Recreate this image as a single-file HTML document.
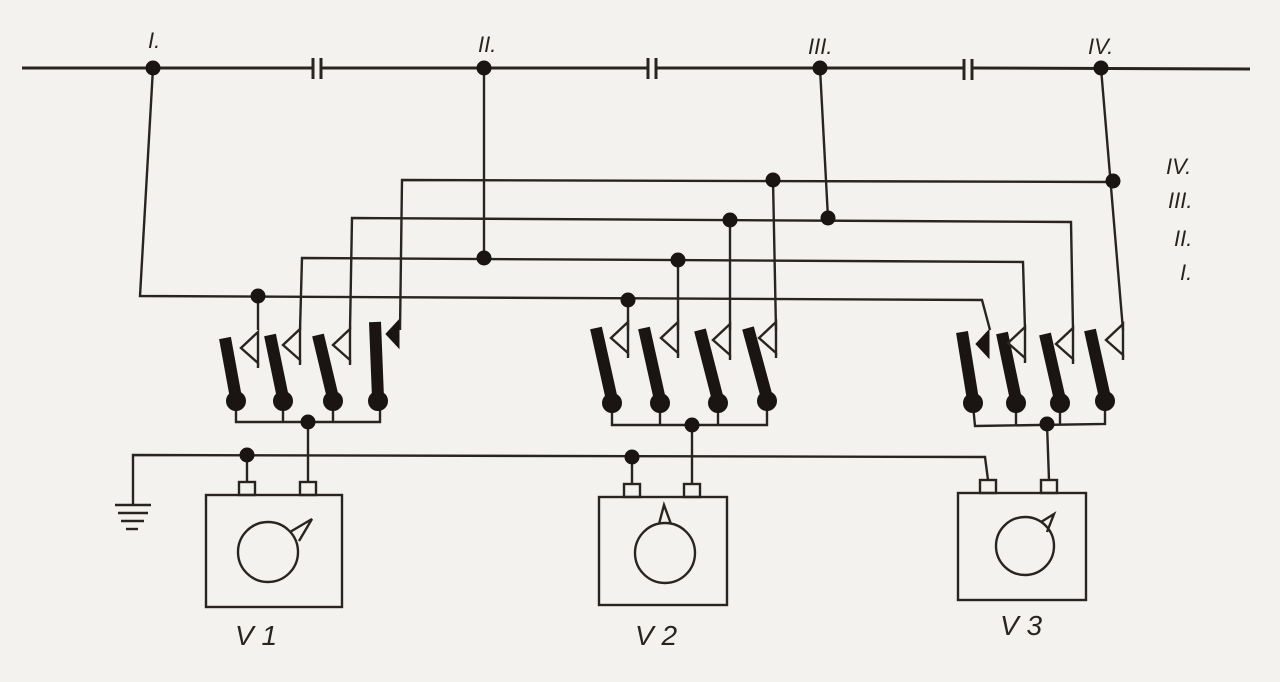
<!DOCTYPE html>
<html><head><meta charset="utf-8"><style>
html,body{margin:0;padding:0;background:#f3f2ef;}
svg{display:block}
text{font-family:"Liberation Sans",sans-serif;font-style:italic;fill:#2a2420}
</style></head><body>
<svg id="s" width="1280" height="682" viewBox="0 0 1280 682" xmlns="http://www.w3.org/2000/svg">
<rect width="1280" height="682" fill="#f3f2ef"/>
<g stroke="#2a2420" fill="none" stroke-width="2.4">
<line x1="22" y1="68" x2="312" y2="68" stroke-width="3"/>
<line x1="322" y1="68" x2="647" y2="68" stroke-width="3"/>
<line x1="657" y1="68" x2="963" y2="68" stroke-width="3"/>
<line x1="973" y1="68" x2="1250" y2="69" stroke-width="3"/>
<line x1="313" y1="58" x2="313" y2="79" stroke-width="3"/><line x1="321" y1="58" x2="321" y2="79" stroke-width="3"/>
<line x1="648" y1="58" x2="648" y2="79" stroke-width="3"/><line x1="656" y1="58" x2="656" y2="79" stroke-width="3"/>
<line x1="964" y1="59" x2="964" y2="80" stroke-width="3"/><line x1="972" y1="59" x2="972" y2="80" stroke-width="3"/>
<polyline points="153,68 140,296 982,300 990,330"/>
<polyline points="484,68 484,258"/>
<polyline points="820,68 828,218"/>
<polyline points="1101,68 1123,330"/>
<polyline points="400,330 402,180 1113,182"/>
<polyline points="350,330 352,218 1071,222 1073,330"/>
<polyline points="300,330 302,258 1023,262 1025,330"/>
<line x1="258" y1="296" x2="258" y2="330"/>
<line x1="628" y1="300" x2="628" y2="330"/>
<line x1="678" y1="260" x2="678" y2="330"/>
<line x1="730" y1="220" x2="730" y2="330"/>
<line x1="773" y1="180" x2="776" y2="330"/>
<polyline points="236,405 236,422 380,422 380,405"/>
<line x1="283" y1="405" x2="283" y2="422"/><line x1="333" y1="405" x2="333" y2="422"/>
<line x1="308" y1="422" x2="308" y2="482"/>
<polyline points="612,405 612,425 767,425 767,405"/>
<line x1="660" y1="405" x2="660" y2="425"/><line x1="718" y1="405" x2="718" y2="425"/>
<line x1="692" y1="425" x2="692" y2="483"/>
<polyline points="973,405 975,426 1105,424 1105,405"/>
<line x1="1016" y1="405" x2="1016" y2="425"/><line x1="1060" y1="405" x2="1060" y2="425"/>
<line x1="1047" y1="424" x2="1049" y2="480"/>
<polyline points="133,505 133,455 985,457 988,480"/>
<line x1="247" y1="455" x2="247" y2="482"/>
<line x1="632" y1="457" x2="632" y2="484"/>
<line x1="115" y1="505" x2="151" y2="505"/><line x1="118" y1="513" x2="148" y2="513"/>
<line x1="121" y1="521" x2="144" y2="521"/><line x1="126" y1="529" x2="138" y2="529"/>
<rect x="206" y="495" width="136" height="112"/>
<rect x="239" y="482" width="16" height="13"/><rect x="300" y="482" width="16" height="13"/>
<circle cx="268" cy="552" r="30"/><polyline points="290,532 312,519 299,541"/>
<rect x="599" y="497" width="128" height="108"/>
<rect x="624" y="484" width="16" height="13"/><rect x="684" y="484" width="16" height="13"/>
<circle cx="665" cy="553" r="30"/><polyline points="659,524 664,505 671,524"/>
<rect x="958" y="493" width="128" height="107"/>
<rect x="980" y="480" width="16" height="13"/><rect x="1041" y="480" width="16" height="13"/>
<circle cx="1025" cy="546" r="29"/><polyline points="1041,522 1054,514 1047,532"/>
</g>
<g id="sw" fill="#1a1512" stroke="#1a1512"></g>
<g font-size="22">
<text x="148" y="48">I.</text><text x="478" y="52">II.</text><text x="808" y="54">III.</text><text x="1088" y="54">IV.</text>
<text x="1166" y="174">IV.</text><text x="1168" y="208">III.</text><text x="1174" y="246">II.</text><text x="1180" y="280">I.</text>
<text x="235" y="645" font-size="28">V 1</text><text x="635" y="645" font-size="28">V 2</text><text x="1000" y="635" font-size="28">V 3</text>
</g>
</svg>
<script>
var g=document.getElementById('sw'),h='';
var nodes=[[153,68],[484,68],[820,68],[1101,68],[1113,181],[773,180],[828,218],[730,220],[484,258],[678,260],[258,296],[628,300],[308,422],[692,425],[1047,424],[247,455],[632,457]];
nodes.forEach(function(n){h+='<circle cx="'+n[0]+'" cy="'+n[1]+'" r="7"/>';});
var sw=[[225,338,236,398,258,0],[270,335,283,398,300,0],[318,335,333,398,350,0],
[375,322,378,398,400,1],
[596,328,612,400,628,0],[644,328,660,400,678,0],[700,330,718,400,730,0],[748,328,767,398,776,0],
[962,332,973,400,990,1],[1002,333,1016,400,1025,0],[1045,334,1060,400,1073,0],[1090,330,1105,398,1123,0]];
sw.forEach(function(s){
 h+='<line x1="'+s[0]+'" y1="'+s[1]+'" x2="'+s[2]+'" y2="'+s[3]+'" stroke-width="12" stroke-linecap="butt"/>';
 h+='<circle cx="'+s[2]+'" cy="'+(s[3]+3)+'" r="9.5"/>';
 var x=s[4],y=s[1]-6;
 if(s[5]==0){h+='<polygon points="'+x+','+y+' '+(x-17)+','+(y+16)+' '+x+','+(y+31)+'" fill="none" stroke="#2a2420" stroke-width="2.4"/>';
  h+='<line x1="'+x+'" y1="'+(y+31)+'" x2="'+x+'" y2="'+(y+36)+'" stroke-width="2.4" stroke="#2a2420"/>';}
 else{h+='<polygon points="'+(x-1)+','+(y+4)+' '+(x-14)+','+(y+18)+' '+(x-1)+','+(y+32)+'"/>';}
});
g.innerHTML=h;
</script>
</body></html>
